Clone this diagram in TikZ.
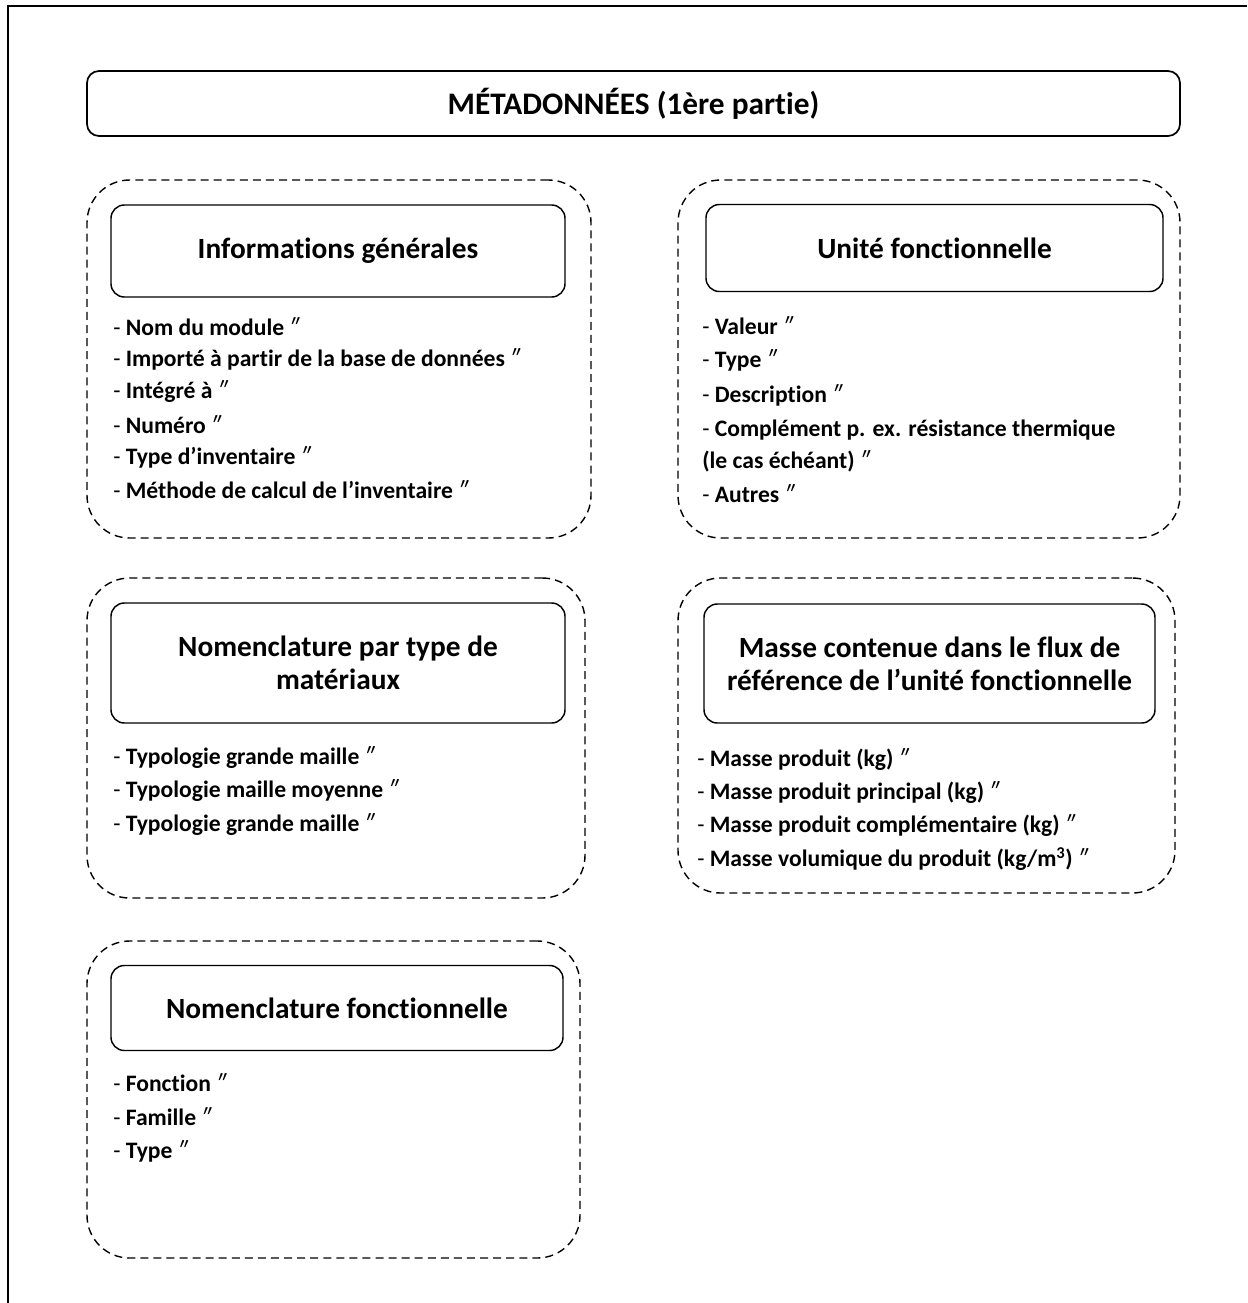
\documentclass[tikz,border=0pt]{standalone}
\usepackage{fontspec}
\setmainfont{Carlito}[Ligatures={TeX,NoCommon}]
\usetikzlibrary{positioning, fit}

\newcommand{\dq}{\textnormal{\textit{″}}}

\tikzset{
  mainbox/.style={draw, line width=1.3pt, rounded corners=9pt, inner sep=0pt,
    font=\fontsize{23.5}{28}\selectfont\bfseries},
  headbox/.style={draw, line width=1.1pt, rounded corners=10pt, inner sep=0pt,
    align=center, font=\fontsize{22}{25}\selectfont\bfseries},
  groupbox/.style={draw, dash pattern=on 6pt off 3.8pt, line width=1.05pt,
    rounded corners=32pt, inner sep=0pt},
  item/.style={anchor=west, inner sep=0pt, font=\fontsize{17.7}{20}\selectfont}
}

\begin{document}
\begin{tikzpicture}[x=0.75pt, y=-0.75pt]
  \useasboundingbox (0,0) rectangle (1247,1303);
  % page frame (only top and left edges visible)
  \draw[line width=1.6pt] (1247,6) -- (8,6) -- (8,1303);

  % Title
  \node[mainbox, minimum width=1093*0.75pt, minimum height=65*0.75pt] (title) at (633.5,103.5) {MÉTADONNÉES (1ère partie)};

  % Informations generales
  \node[groupbox, fit={(87,180) (591,538)}] (genframe) {};
  \node[headbox, minimum width=454*0.75pt, minimum height=92*0.75pt] (genhead) at (338,251) {Informations générales};
  \foreach \txt [count=\i] in {Nom du module, Importé à partir de la base de données,
      Intégré à, Numéro, Type d’inventaire, Méthode de calcul de l’inventaire}
    \node[item] (gen\i) at (113,294+32.6*\i) {- \textbf{\txt} \dq};

  % Unite fonctionnelle
  \node[groupbox, fit={(678,180) (1180,538)}] (ufframe) {};
  \node[headbox, minimum width=457*0.75pt, minimum height=87*0.75pt] (ufhead) at (934.5,248) {Unité fonctionnelle};
  \node[item] (uf1) at (702,326) {- \textbf{Valeur} \dq};
  \node[item] (uf2) at (702,360) {- \textbf{Type} \dq};
  \node[item] (uf3) at (702,395) {- \textbf{Description} \dq};
  \node[item] (uf4) at (702,430) {- \textbf{Complément p. ex. résistance thermique}};
  \node[item] (uf5) at (702,461) {\textbf{(le cas échéant)} \dq};
  \node[item] (uf6) at (702,494) {- \textbf{Autres} \dq};

  % Nomenclature par type de materiaux
  \node[groupbox, fit={(87,578) (585,898)}] (matframe) {};
  \node[headbox, minimum width=454*0.75pt, minimum height=120*0.75pt] (mathead) at (338,663) {Nomenclature par type de\\matériaux};
  \foreach \txt [count=\i] in {Typologie grande maille, Typologie maille moyenne,
      Typologie grande maille}
    \node[item] (mat\i) at (113,724+33.5*\i) {- \textbf{\txt} \dq};

  % Masse contenue dans le flux de reference
  \node[groupbox, fit={(678,578) (1175,893)}] (massframe) {};
  \node[headbox, minimum width=451*0.75pt, minimum height=119*0.75pt] (masshead) at (929.5,663.5) {Masse contenue dans le flux de\\référence de l’unité fonctionnelle};
  \foreach \txt [count=\i] in {Masse produit (kg), Masse produit principal (kg),
      Masse produit complémentaire (kg), Masse volumique du produit (kg/m\textsuperscript{3})}
    \node[item] (mass\i) at (697,727+33*\i) {- \textbf{\txt} \dq};

  % Nomenclature fonctionnelle
  \node[groupbox, fit={(87,941) (580,1258)}] (fctframe) {};
  \node[headbox, minimum width=452*0.75pt, minimum height=85*0.75pt] (fcthead) at (337,1008) {Nomenclature fonctionnelle};
  \foreach \txt [count=\i] in {Fonction, Famille, Type}
    \node[item] (fct\i) at (113,1048+34.5*\i) {- \textbf{\txt} \dq};
\end{tikzpicture}
\end{document}
